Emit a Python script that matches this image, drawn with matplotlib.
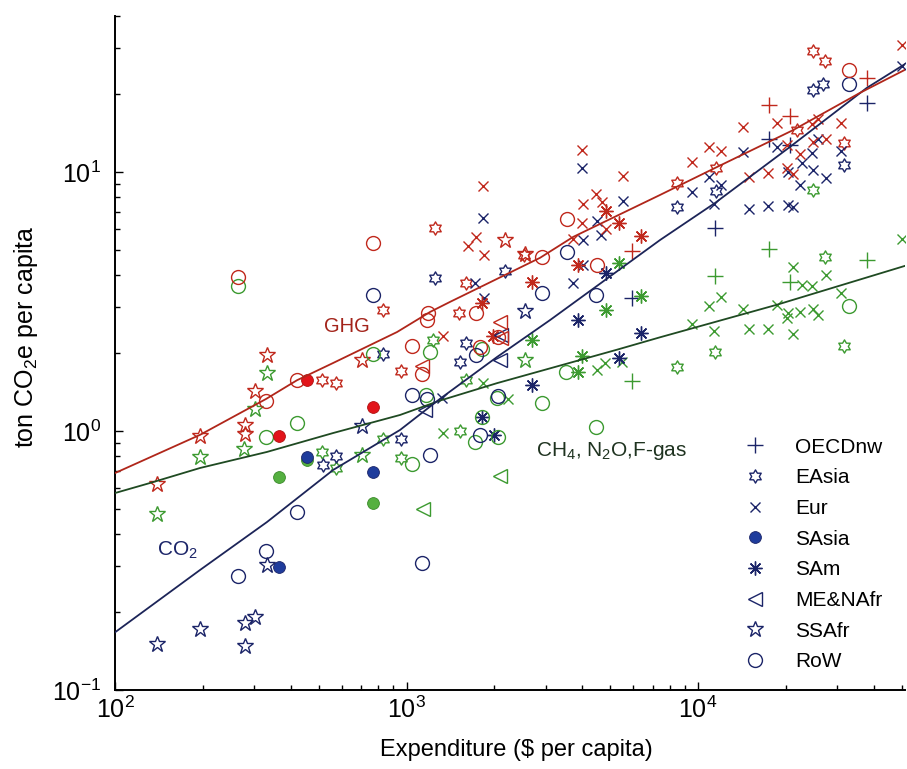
import numpy as np
import matplotlib
matplotlib.use('Agg')
import matplotlib.pyplot as plt
from matplotlib.path import Path
from matplotlib.lines import Line2D

plt.rcParams['font.family'] = ['Liberation Sans', 'DejaVu Sans']
plt.rcParams['mathtext.fontset'] = 'custom'
plt.rcParams['mathtext.rm'] = 'Liberation Sans'
plt.rcParams['mathtext.it'] = 'Liberation Sans:italic'
plt.rcParams['mathtext.bf'] = 'Liberation Sans:bold'

# ---------------- data (expenditure $/cap, t CO2e/cap) ----------------
OECD_X_GHG = [5960, 17480, 20690, 37910]
OECD_GHG = [4.94, 18.2, 16.5, 23.0]
OECD_X_CO2 = [5960, 11440, 17480, 20690, 37910]
OECD_CO2 = [3.27, 6.09, 13.4, 12.7, 18.4]
OECD_X_OTH = [5960, 11440, 17480, 20690, 37910]
OECD_OTH = [1.56, 3.96, 5.05, 3.77, 4.57]

EASIA_X_GHG = [513, 571, 831, 954, 1253, 1514, 1600, 2530, 8450, 11530, 21860, 24750, 27300, 31770]
EASIA_GHG = [1.57, 1.53, 2.93, 1.71, 6.09, 2.85, 3.72, 4.78, 9.09, 10.4, 14.5, 29.2, 26.7, 12.9]
EASIA_X_CO2 = [516, 572, 831, 958, 1253, 1526, 1600, 2177, 8450, 11530, 24750, 26900, 31770]
EASIA_CO2 = [0.739, 0.80, 1.98, 0.93, 3.9, 1.85, 2.18, 4.16, 7.35, 8.45, 20.7, 21.9, 10.64]
EASIA_X_OTH = [513, 572, 831, 954, 1236, 1526, 1600, 8450, 11440, 24750, 27250, 31770]
EASIA_OTH = [0.832, 0.718, 0.931, 0.785, 2.25, 1.0, 1.57, 1.76, 2.02, 8.52, 4.71, 2.13]

EUR_X_GHG = [1825, 1732, 1622, 1845, 1337, 3990, 5516, 4480, 4674, 4042,
             3990, 3735, 4835, 9515, 10935, 11993, 14230, 14997, 17450, 18620,
             20160, 22380, 20160, 21230, 24550, 25860, 24870, 27490, 30870, 50000]
EUR_GHG = [8.83, 5.62, 5.19, 4.78, 2.33, 12.16, 9.63, 8.2, 7.68, 7.5,
           6.37, 5.51, 6.01, 10.96, 12.5, 12.08, 14.9, 9.6, 9.89, 15.5,
           12.66, 11.77, 10.33, 9.83, 15.25, 16.05, 13.0, 13.4, 15.5, 30.9]
EUR_X_CO2 = [1825, 1718, 1849, 1321, 3990, 5516, 4490, 4660, 4042, 4020,
             3735, 9515, 10935, 11993, 11390, 14230, 14997, 17450, 18620, 20410,
             22690, 22380, 24550, 24870, 25860, 27490, 20410, 21130, 30870, 50000]
EUR_CO2 = [6.67, 3.72, 3.25, 1.34, 10.33, 7.69, 6.49, 5.73, 5.44, 4.38,
           3.72, 8.39, 9.52, 8.92, 7.54, 11.89, 7.18, 7.37, 12.5, 10.03,
           10.8, 8.93, 11.8, 10.18, 13.35, 9.46, 7.43, 7.35, 12.08, 25.7]
EUR_X_OTH = [1337, 1834, 2235, 4490, 4797, 5472, 9515, 10935, 11993, 11390,
             14230, 14997, 17420, 18620, 20160, 20410, 21230, 22380, 24750, 25860,
             22690, 24550, 21230, 27490, 30870, 50000]
EUR_OTH = [0.982, 1.53, 1.33, 1.72, 1.83, 1.85, 2.59, 3.04, 3.28, 2.44,
           2.95, 2.47, 2.47, 3.07, 2.72, 2.85, 2.37, 2.89, 2.95, 2.8,
           3.66, 3.62, 4.31, 4.0, 3.4, 5.5]

SASIA_X = [365, 455, 767]
SASIA_GHG = [0.96, 1.57, 1.235]
SASIA_CO2 = [0.298, 0.796, 0.697]
SASIA_OTH = [0.666, 0.773, 0.529]

SAM_X_GHG = [1811, 1985, 2695, 3886, 4850, 5370, 6377]
SAM_GHG = [3.12, 2.33, 3.77, 4.38, 7.09, 6.37, 5.67]
SAM_X_CO2 = [1811, 2000, 2695, 3880, 4835, 5370, 6377]
SAM_CO2 = [1.13, 0.965, 1.50, 2.68, 4.06, 1.92, 2.39]
SAM_X_OTH = [2700, 3886, 4000, 4835, 5360, 6377]
SAM_OTH = [2.25, 1.69, 1.94, 2.94, 4.44, 3.31]

MENA_X_GHG = [1130, 2100, 2110]
MENA_GHG = [1.78, 2.64, 2.29]
MENA_X_CO2 = [1158, 2110, 2100]
MENA_CO2 = [1.205, 2.34, 1.88]
MENA_X_OTH = [1139, 2093]
MENA_OTH = [0.5, 0.673]

SSAFR_X_GHG = [139, 195, 279, 279, 302, 331, 702, 2177, 2550]
SSAFR_GHG = [0.624, 0.957, 1.055, 0.974, 1.43, 1.97, 1.88, 5.46, 4.81]
SSAFR_X_CO2 = [139, 195, 279, 279, 302, 331, 706, 2550]
SSAFR_CO2 = [0.151, 0.172, 0.181, 0.148, 0.192, 0.304, 1.045, 2.91]
SSAFR_X_OTH = [139, 195, 277, 302, 331, 702, 2550]
SSAFR_OTH = [0.477, 0.796, 0.852, 1.22, 1.67, 0.808, 1.88]

ROW_X_GHG = [264, 329, 420, 766, 1042, 1127, 1188, 1173, 1732, 1787, 2065, 2916, 3545, 4490, 33040]
ROW_GHG = [3.93, 1.31, 1.57, 5.33, 2.13, 1.66, 2.85, 2.68, 2.85, 2.11, 2.30, 4.69, 6.57, 4.38, 24.8]
ROW_X_CO2 = [264, 330, 422, 766, 1042, 1173, 1127, 1204, 1732, 2052, 1790, 2910, 3545, 4470, 33040]
ROW_CO2 = [0.276, 0.344, 0.488, 3.35, 1.38, 1.33, 0.31, 0.808, 1.97, 1.36, 0.965, 3.4, 4.9, 3.35, 21.9]
ROW_X_OTH = [264, 329, 420, 766, 1042, 1204, 1166, 1811, 2045, 2910, 3530, 4470, 1715, 2052, 1811, 33040]
ROW_OTH = [3.63, 0.944, 1.07, 1.98, 0.744, 2.01, 1.38, 2.07, 1.34, 1.28, 1.69, 1.04, 0.909, 0.946, 1.13, 3.04]

# fitted curves
FIT_X_GHG = [100, 196, 330, 421, 560, 928, 1204, 1410, 2870, 3727, 7408, 11620, 21180, 35950, 51300]
FIT_GHG = [0.688, 0.967, 1.33, 1.57, 1.83, 2.41, 2.88, 3.15, 4.66, 5.61, 8.15, 10.45, 14.5, 20.2, 24.8]
FIT_X_CO2 = [100, 196, 332, 560, 950, 1302, 2044, 3107, 7408, 11440, 20690, 37910, 51300]
FIT_CO2 = [0.167, 0.291, 0.445, 0.707, 1.009, 1.33, 1.93, 2.68, 5.46, 7.59, 12.5, 21.1, 26.1]
FIT_X_OTH = [100, 132, 196, 332, 560, 950, 1302, 2044, 5274, 7408, 18620, 51300]
FIT_OTH = [0.576, 0.63, 0.72, 0.83, 0.982, 1.153, 1.31, 1.53, 2.06, 2.30, 3.07, 4.34]

REGIONS = ['OECDnw', 'EAsia', 'Eur', 'SAsia', 'SAm', 'ME&NAfr', 'SSAfr', 'RoW']

# ---------------- styling ----------------
RED = '#c0281c'
BLUE = '#1b2468'
GREEN = '#3c9a30'
RED_FILL = '#e2141a'
BLUE_FILL = '#1f3c9c'
GREEN_FILL = '#55b040'
LINE_RED = '#b0261a'
LINE_BLUE = '#1c2458'
LINE_GREEN = '#1f4a22'

ang = np.pi / 2 + np.arange(12) * np.pi / 6
rad = np.where(np.arange(12) % 2 == 0, 1.0, 1 / np.sqrt(3))
hv = np.column_stack([rad * np.cos(ang), rad * np.sin(ang)])
hv = np.vstack([hv, hv[0]])
HEXAGRAM = Path(hv, closed=True)
ASTER = (8, 2, 0)

MARK = {
    'OECDnw': dict(marker='+', ms=11, mew=1.0),
    'EAsia': dict(marker=HEXAGRAM, ms=9.5, mew=1.0),
    'Eur': dict(marker='x', ms=6.5, mew=1.0),
    'SAsia': dict(marker='o', ms=8.5, mew=0.6),
    'SAm': dict(marker=ASTER, ms=10, mew=1.0),
    'ME&NAfr': dict(marker='<', ms=10, mew=1.0),
    'SSAfr': dict(marker='*', ms=12, mew=1.0),
    'RoW': dict(marker='o', ms=10, mew=1.0),
}

fig = plt.figure(figsize=(9.07, 7.69), dpi=100)
ax = fig.add_axes([0.1268, 0.1027, 0.8710, 0.8765])
ax.set_xscale('log')
ax.set_yscale('log')


def pts(region, x, y, col, fill=None):
    st = MARK[region]
    ax.plot(x, y, linestyle='none', marker=st['marker'], ms=st['ms'],
            mew=st['mew'], mec=col, mfc=fill if fill else 'none', zorder=3)


series = [
    ('OECDnw', OECD_X_GHG, OECD_GHG, OECD_X_CO2, OECD_CO2, OECD_X_OTH, OECD_OTH),
    ('EAsia', EASIA_X_GHG, EASIA_GHG, EASIA_X_CO2, EASIA_CO2, EASIA_X_OTH, EASIA_OTH),
    ('Eur', EUR_X_GHG, EUR_GHG, EUR_X_CO2, EUR_CO2, EUR_X_OTH, EUR_OTH),
    ('SAm', SAM_X_GHG, SAM_GHG, SAM_X_CO2, SAM_CO2, SAM_X_OTH, SAM_OTH),
    ('ME&NAfr', MENA_X_GHG, MENA_GHG, MENA_X_CO2, MENA_CO2, MENA_X_OTH, MENA_OTH),
    ('SSAfr', SSAFR_X_GHG, SSAFR_GHG, SSAFR_X_CO2, SSAFR_CO2, SSAFR_X_OTH, SSAFR_OTH),
    ('RoW', ROW_X_GHG, ROW_GHG, ROW_X_CO2, ROW_CO2, ROW_X_OTH, ROW_OTH),
]
for reg, xg, yg, xc, yc, xo, yo in series:
    pts(reg, xo, yo, GREEN)
    pts(reg, xc, yc, BLUE)
    pts(reg, xg, yg, RED)

pts('SAsia', SASIA_X, SASIA_OTH, '#3a8a2a', GREEN_FILL)
pts('SAsia', SASIA_X, SASIA_CO2, BLUE, BLUE_FILL)
pts('SAsia', SASIA_X, SASIA_GHG, '#b01010', RED_FILL)

ax.plot(FIT_X_OTH, FIT_OTH, color=LINE_GREEN, lw=1.3, zorder=4)
ax.plot(FIT_X_CO2, FIT_CO2, color=LINE_BLUE, lw=1.3, zorder=4)
ax.plot(FIT_X_GHG, FIT_GHG, color=LINE_RED, lw=1.3, zorder=4)

ax.text(521, 2.42, 'GHG', color='#a3231a', fontsize=14.5, ha='left', va='baseline')
ax.text(139, 0.329, r'CO$_2$', color=BLUE, fontsize=15, ha='left', va='baseline')
ax.text(2782, 0.80, r'CH$_4$, N$_2$O,F-gas', color='#1f3320', fontsize=15,
        ha='left', va='baseline')

# axes
ax.set_xlim(100, 51300)
ax.set_ylim(0.1, 40)
for s in ('top', 'right'):
    ax.spines[s].set_visible(False)
for s in ('left', 'bottom'):
    ax.spines[s].set_linewidth(1.4)
ax.tick_params(which='both', direction='in', width=1.0, colors='black')
ax.tick_params(which='major', length=6)
ax.tick_params(which='minor', length=3.5)
ax.tick_params(axis='x', which='major', labelsize=18, pad=5)
ax.tick_params(axis='y', which='major', labelsize=18, pad=10)

ax.set_xlabel(r'Expenditure (\$ per capita)', fontsize=17)
ax.set_ylabel(r'ton CO$_2$e per capita', fontsize=18)
ax.xaxis.set_label_coords(0.508, -0.072)
ax.yaxis.set_label_coords(-0.095, 0.524)

handles = []
for reg in REGIONS:
    st = MARK[reg]
    fill = BLUE_FILL if reg == 'SAsia' else 'none'
    handles.append(Line2D([], [], linestyle='none', marker=st['marker'], ms=st['ms'],
                          mew=st['mew'], mec=BLUE, mfc=fill))
ax.legend(handles, REGIONS, loc='center left', bbox_to_anchor=(0.7835, 0.201),
          frameon=False, fontsize=15, handlelength=2.0, handletextpad=0.95,
          labelspacing=0.56, borderpad=0, borderaxespad=0)

fig.savefig('out.png', dpi=100)
